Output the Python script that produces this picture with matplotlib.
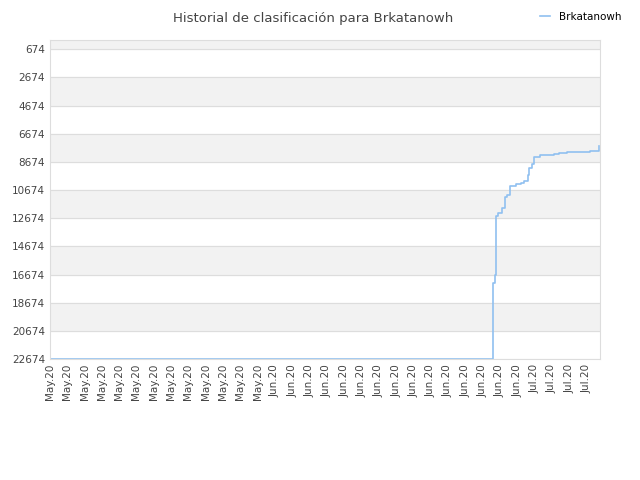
import matplotlib
matplotlib.use("Agg")
import matplotlib.pyplot as plt

labels = ["May.20"]*13 + ["Jun.20"]*15 + ["Jul.20"]*4
pos = [0, 25.6, 25.6, 25.7, 25.75, 25.8, 25.9, 26.1, 26.3, 26.4, 26.6, 26.9, 27.2, 27.4, 27.6, 27.7, 27.85, 27.99, 28.3, 29.1, 29.4, 29.9, 31.2, 31.7, 31.75]
rank = [22674, 22674, 17280, 16700, 15300, 12530, 12320, 11960, 11180, 11040, 10400, 10260, 10180, 10040, 9620, 9120, 8840, 8340, 8200, 8130, 8060, 7980, 7910, 7910, 7560]

fig, ax = plt.subplots(figsize=(6.4, 4.8), dpi=100)
fig.subplots_adjust(left=0.078, right=0.938, top=0.917, bottom=0.252)
ax.step(pos, rank, where="post", color="#90c0f0", lw=1.2, label="Brkatanowh")
yt = list(range(674, 22675, 2000))
for i in range(len(yt)):
    lo = yt[i-1] if i > 0 else 0
    if i % 2 == 0:
        ax.axhspan(lo, yt[i], color="#f2f2f2", zorder=0)
ax.set_ylim(22674, 0)
ax.set_xlim(0, 31.8)
ax.set_yticks(yt)
ax.set_yticklabels([str(v) for v in yt], fontsize=7.5, color="#444444")
ax.set_xticks(range(len(labels)))
ax.set_xticklabels(labels, rotation=90, fontsize=7.5, color="#444444")
ax.tick_params(length=0)
ax.grid(axis="y", color="#dddddd", lw=0.8)
ax.set_axisbelow(True)
for s in ax.spines.values():
    s.set_color("#dddddd")
fig.suptitle("Historial de clasificación para Brkatanowh", x=0.49, y=0.975, fontsize=9.5, color="#444444")
fig.legend(loc="upper right", bbox_to_anchor=(0.985, 0.995), frameon=False, fontsize=7.5, handlelength=1)
fig.savefig("out.png")
